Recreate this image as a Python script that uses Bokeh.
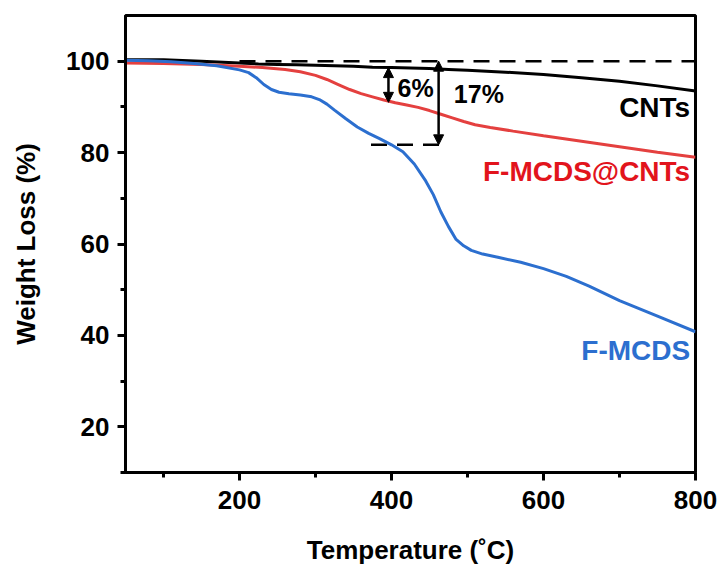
from bokeh.plotting import figure
from bokeh.models import FixedTicker, Arrow, NormalHead, Range1d
from bokeh.core.properties import value
from bokeh.embed import file_html
from bokeh.resources import INLINE

# ---- data ----
temp_cnts = [50, 100, 150, 200, 225, 250, 275, 300, 325, 350, 375, 400, 425, 450,
             475, 500, 525, 550, 600, 650, 700, 750, 800]
cnts = [100.3, 100.3, 100.0, 99.6, 99.4, 99.3, 99.2, 99.1, 99.0, 98.9, 98.7,
        98.6, 98.5, 98.4, 98.2, 98.0, 97.8, 97.6, 97.1, 96.4, 95.6, 94.6, 93.5]
temp_fmcds_cnts = [50, 100, 150, 200, 230, 260, 280, 300, 315, 330, 345, 360, 375,
                   390, 405, 420, 435, 450, 465, 480, 495, 510, 530, 560, 600, 650,
                   700, 750, 800]
fmcds_cnts = [99.6, 99.5, 99.3, 98.9, 98.6, 98.2, 97.7, 96.9, 96.0, 94.9, 93.8,
              92.9, 92.2, 91.5, 90.9, 90.4, 89.9, 89.2, 88.4, 87.6, 86.8, 86.1,
              85.5, 84.7, 83.7, 82.5, 81.3, 80.1, 79.0]
temp_fmcds = [50, 80, 110, 140, 170, 200, 212, 222, 232, 242, 252, 265, 280, 295,
              305, 315, 325, 340, 355, 370, 385, 400, 415, 430, 445, 455, 465, 475,
              485, 495, 505, 520, 540, 570, 600, 630, 660, 700, 750, 800]
fmcds = [100.2, 100.1, 99.9, 99.5, 99.0, 98.1, 97.5, 96.4, 94.9, 93.8, 93.2, 92.9,
         92.6, 92.2, 91.6, 90.6, 89.3, 87.4, 85.6, 84.2, 83.0, 81.7, 80.2, 77.5,
         73.8, 70.8, 67.0, 63.8, 61.0, 59.6, 58.6, 57.8, 57.1, 56.0, 54.6, 52.9,
         50.8, 47.6, 44.2, 40.8]

x_major = [200, 400, 600, 800]
x_minor = [100, 300, 500, 700]
y_major = [20, 40, 60, 80, 100]
y_minor = [10, 30, 50, 70, 90]

series_names = ["CNTs", "F-MCDS@CNTs", "F-MCDS"]
label_x = [793, 793, 793]
label_y = [89.8, 75.9, 36.6]

# annotation values
ref_level = 100
ref_x = [200, 800]
low_level = 81.7
low_x = [373, 469]
arrow6_x, arrow6_y = 396, [98.6, 91.0]
arrow17_x, arrow17_y = 462, [100, 81.7]
pct_texts = ["6%", "17%"]
pct_x = [408, 482]
pct_y = [94.2, 92.8]

FONT = "Liberation Sans"
BLACK = "#000000"
RED_LINE = "#E4403F"
RED_TEXT = "#E2141C"
BLUE = "#2C6FCF"

p = figure(width=721, height=567, output_backend="svg", toolbar_location=None,
           x_range=Range1d(50, 800), y_range=Range1d(10, 110),
           min_border_left=125, min_border_right=26, min_border_top=15,
           min_border_bottom=94)
p.outline_line_color = "black"
p.outline_line_width = 3
p.grid.visible = False
p.background_fill_color = "white"
p.border_fill_color = "white"

p.xaxis.ticker = FixedTicker(ticks=x_major, minor_ticks=x_minor)
p.yaxis.ticker = FixedTicker(ticks=y_major, minor_ticks=y_minor)

for ax in (p.xaxis[0], p.yaxis[0]):
    ax.axis_line_width = 3
    ax.major_tick_line_width = 3
    ax.minor_tick_line_width = 3
    ax.major_tick_out = 8
    ax.major_tick_in = 0
    ax.minor_tick_out = 5
    ax.minor_tick_in = 0
    ax.major_label_text_font = FONT
    ax.major_label_text_font_style = "bold"
    ax.major_label_text_font_size = "26px"
    ax.major_label_text_color = "black"
    ax.axis_label_text_font = FONT
    ax.axis_label_text_font_style = "bold"
    ax.axis_label_text_font_size = "26px"
    ax.axis_label_text_color = "black"

p.xaxis.axis_label = "Temperature (\u02daC)"
p.yaxis.axis_label = "Weight Loss (%)"
p.xaxis.major_label_standoff = 10
p.yaxis.major_label_standoff = 8
p.xaxis.axis_label_standoff = 23
p.yaxis.axis_label_standoff = 22

# reference dashed lines
p.line(ref_x, [ref_level, ref_level], line_color="black", line_width=2.5, line_dash="16 10")
p.line(low_x, [low_level, low_level], line_color="black", line_width=2.5, line_dash="16 10")

# curves
p.line(temp_cnts, cnts, line_color=BLACK, line_width=3)
p.line(temp_fmcds_cnts, fmcds_cnts, line_color=RED_LINE, line_width=3)
p.line(temp_fmcds, fmcds, line_color=BLUE, line_width=3)

# arrows
for ax_x, ys in ((arrow6_x, arrow6_y), (arrow17_x, arrow17_y)):
    p.add_layout(Arrow(x_start=ax_x, y_start=ys[0], x_end=ax_x, y_end=ys[1],
                       line_width=2.5, line_color="black",
                       start=NormalHead(size=10, fill_color="black", line_color="black"),
                       end=NormalHead(size=10, fill_color="black", line_color="black")))

p.text(x=pct_x, y=pct_y, text=pct_texts, text_font=value(FONT), text_font_style="bold",
       text_font_size="25px", text_color="black", text_baseline="middle", text_align="left")

p.text(x=label_x, y=label_y, text=series_names, text_font=value(FONT),
       text_font_style="bold", text_font_size="28px",
       text_color=[BLACK, RED_TEXT, BLUE], text_baseline="middle", text_align="right")

open("out.html", "w").write(file_html(p, INLINE))
